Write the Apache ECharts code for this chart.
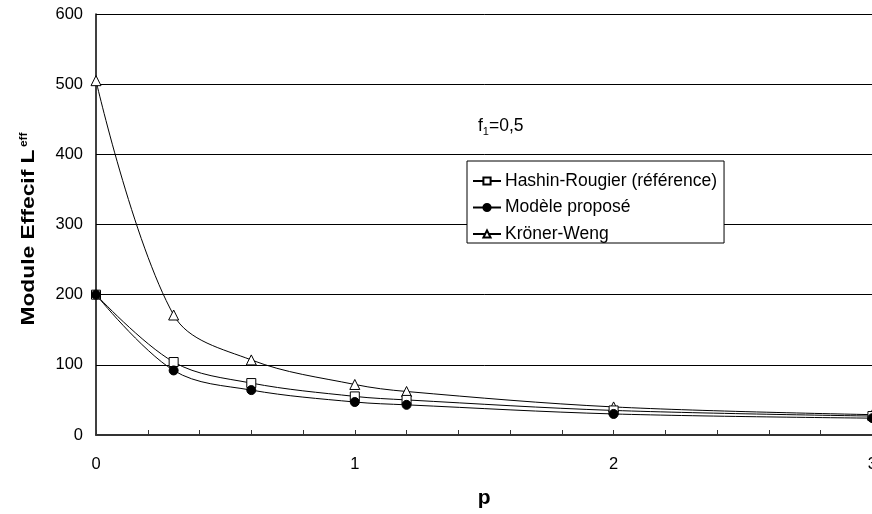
<!DOCTYPE html>
<html>
<head>
<meta charset="utf-8">
<script src="https://cdn.jsdelivr.net/npm/echarts@6/dist/echarts.min.js"></script>
<style>
  html, body { margin: 0; padding: 0; background: #fff; overflow: hidden; }
  #chart { width: 880px; height: 514px; }
</style>
</head>
<body>
<div id="chart"></div>
<script>
// valeurs
const pValues = [0, 0.3, 0.6, 1, 1.2, 2, 3];
const hashin = [200, 104, 74, 55, 50, 35, 27];
const modele = [200, 92, 64, 47, 43, 30, 24];
const kroner = [505, 171, 107, 72, 62, 40, 29];
const seriesNames = ["Hashin-Rougier (référence)", "Modèle proposé", "Kröner-Weng"];

const font = "Liberation Sans, Arial, sans-serif";
const myChart = echarts.init(document.getElementById("chart"));

function pairs(ys) {
  return pValues.map((p, i) => [p, ys[i]]);
}

function makeSeries(name, ys, symbol, fill, z) {
  return {
    name: name,
    type: "line",
    data: pairs(ys),
    smooth: 0.35,
    symbol: symbol,
    symbolSize: symbol === "triangle" ? 10 : 9,
    showAllSymbol: true,
    z: z,
    lineStyle: { color: "#000", width: 1 },
    itemStyle: { color: fill, borderColor: "#000", borderWidth: 1 },
    emphasis: { disabled: true },
  };
}

const option = {
  animation: false,
  backgroundColor: "#fff",
  textStyle: { fontFamily: font },
  grid: { left: 96, top: 14, right: 4, bottom: 78 },
  legend: {
    orient: "vertical",
    left: 467,
    top: 161,
    padding: [11, 7, 0, 5],
    itemGap: 8.5,
    itemWidth: 28,
    itemHeight: 9,
    backgroundColor: "#fff",
    borderColor: "#000",
    borderWidth: 1,
    borderRadius: 0,
    textStyle: { color: "#000", fontSize: 17.5, fontFamily: font, padding: [0, 0, 0, -1] },
    data: seriesNames,
  },
  xAxis: {
    type: "value",
    min: 0,
    max: 3,
    interval: 1,
    name: "p",
    nameLocation: "middle",
    nameGap: 53,
    nameTextStyle: { color: "#000", fontSize: 21, fontWeight: "bold", fontFamily: font },
    axisLine: { show: true, lineStyle: { color: "#333", width: 2 } },
    axisTick: { show: true, inside: true, length: 5, lineStyle: { color: "#333" } },
    minorTick: { show: true, splitNumber: 5, length: 5, lineStyle: { color: "#333" } },
    axisLabel: { color: "#000", fontSize: 16.5, margin: 21, fontFamily: font },
    splitLine: { show: false },
  },
  yAxis: {
    type: "value",
    min: 0,
    max: 600,
    interval: 100,
    axisLine: { show: true, lineStyle: { color: "#000", width: 1.5 } },
    axisTick: { show: false },
    axisLabel: { color: "#000", fontSize: 16.5, margin: 13, fontFamily: font },
    splitLine: { show: true, lineStyle: { color: "#000", width: 1 } },
  },
  graphic: [
    {
      type: "text",
      left: 478,
      top: 117,
      style: {
        text: "{a|f}{b|1}{a|=0,5}",
        rich: {
          a: { fontSize: 17.5, fontFamily: font, fill: "#000", verticalAlign: "bottom" },
          b: { fontSize: 11, fontFamily: font, fill: "#000", verticalAlign: "bottom", padding: [0, 0, -2, 0] },
        },
      },
    },
    {
      type: "text",
      x: 29,
      y: 229,
      rotation: Math.PI / 2,
      scaleX: 1.2,
      style: {
        text: "{a|Module Effecif L}{b|eff}",
        align: "center",
        verticalAlign: "middle",
        rich: {
          a: { fontSize: 19, fontWeight: "bold", fontFamily: font, fill: "#000", verticalAlign: "bottom" },
          b: { fontSize: 10, fontWeight: "bold", fontFamily: font, fill: "#000", verticalAlign: "top", padding: [0, 0, 0, 2] },
        },
      },
    },
  ],
  series: [
    makeSeries(seriesNames[0], hashin, "rect", "#fff", 3),
    makeSeries(seriesNames[1], modele, "circle", "#000", 4),
    makeSeries(seriesNames[2], kroner, "triangle", "#fff", 2),
  ],
};

myChart.setOption(option);
</script>
</body>
</html>
